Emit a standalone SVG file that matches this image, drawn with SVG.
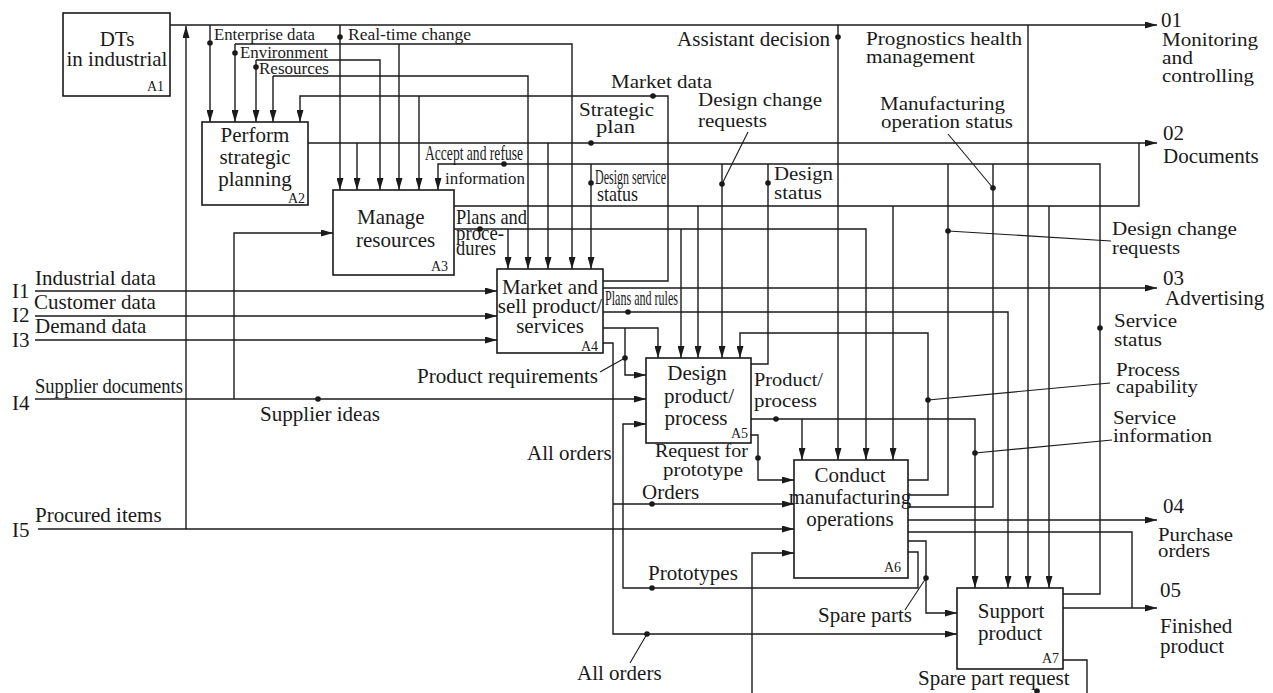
<svg xmlns="http://www.w3.org/2000/svg" width="1273" height="693" viewBox="0 0 1273 693">
<style>
text{font-family:"Liberation Serif","Times New Roman",serif;fill:#1a1a1a;font-size:21px}
.c{text-anchor:middle}
.s{font-size:14px}
.m{font-size:16px}
.t{font-size:19px}
.box{fill:#fff;stroke:#1a1a1a;stroke-width:1.6}
.ln{fill:none;stroke:#1a1a1a;stroke-width:1.4}
.ar{fill:none;stroke:#1a1a1a;stroke-width:1.4;marker-end:url(#ah)}
.ld{fill:none;stroke:#1a1a1a;stroke-width:1.1}
.dot{fill:#1a1a1a}
</style>
<defs>
<marker id="ah" viewBox="0 0 12 7" refX="12" refY="3.5" markerWidth="12" markerHeight="7" markerUnits="userSpaceOnUse" orient="auto"><path d="M0,0 L12,3.5 L0,7 z" fill="#1a1a1a"/></marker>
</defs>
<rect width="1273" height="693" fill="#fff"/>
<g id="connectors">
<path class="ar" d="M170,25 H1157"/>
<path class="ar" d="M186,529 V26"/>
<path class="ar" d="M210,25 V122"/>
<path class="ar" d="M235,44 V122"/>
<path class="ar" d="M235,44 H572 V269"/>
<path class="ar" d="M399,44 V190"/>
<path class="ar" d="M256,60 V122"/>
<path class="ar" d="M256,60 H380 V190"/>
<path class="ar" d="M273,76 V122"/>
<path class="ar" d="M273,76 H528 V269"/>
<path class="ar" d="M603,281 H668 V96 H300 V122"/>
<path class="ar" d="M419,96 V190"/>
<path class="ar" d="M340,25 V190"/>
<path class="ar" d="M308,143 H1157"/>
<path class="ar" d="M357,143 V190"/>
<path class="ar" d="M548,143 V269"/>
<path class="ar" d="M1063,594 H1100 V164 H438 V190"/>
<path class="ar" d="M591,164 V269"/>
<path class="ar" d="M722,164 V358"/>
<path class="ln" d="M751,364 H768 V164"/>
<path class="ln" d="M908,495 H948 V164"/>
<path class="ln" d="M908,507 H993 V164"/>
<path class="ln" d="M454,206 H1139 V143"/>
<path class="ar" d="M698,206 V358"/>
<path class="ar" d="M893,206 V460"/>
<path class="ar" d="M1049,206 V588"/>
<path class="ar" d="M454,229 H866 V460"/>
<path class="ar" d="M508,229 V269"/>
<path class="ar" d="M681,229 V358"/>
<path class="ar" d="M838,25 V460"/>
<path class="ar" d="M1028,25 V588"/>
<path class="ar" d="M35,291 H497"/>
<path class="ar" d="M35,316 H497"/>
<path class="ar" d="M35,340 H497"/>
<path class="ar" d="M35,399 H646"/>
<path class="ar" d="M234,399 V233 H333"/>
<path class="ar" d="M38,529 H794"/>
<path class="ar" d="M603,288 H1157"/>
<path class="ar" d="M603,312 H1008 V588"/>
<path class="ar" d="M603,328 H658 V358"/>
<path class="ar" d="M625,328 V375 H646"/>
<path class="ar" d="M603,343 H613 V634 H957"/>
<path class="ar" d="M613,504 H794"/>
<path class="ar" d="M751,419 H975 V588"/>
<path class="ar" d="M802,419 V460"/>
<path class="ar" d="M751,435 H758 V480 H794"/>
<path class="ar" d="M908,480 H928 V333 H740 V358"/>
<path class="ar" d="M908,520 H1157"/>
<path class="ln" d="M908,532 H1132 V608"/>
<path class="ar" d="M1063,608 H1157"/>
<path class="ar" d="M908,541 H926 V613 H957"/>
<path class="ar" d="M908,552 H918 V588 H623 V424 H646"/>
<path class="ln" d="M1063,660 H1087 V693"/>
<path class="ar" d="M752,693 V553 H794"/>
<path class="ld" d="M748,132 L722,184"/>
<path class="ld" d="M948,134 L993,188"/>
<path class="ld" d="M948,231 L1111,241"/>
<path class="ld" d="M928,400 L1110,383"/>
<path class="ld" d="M975,453 L1112,440"/>
<path class="ld" d="M625,358 L600,372"/>
<path class="ld" d="M926,578 L905,610"/>
<path class="ld" d="M647,634 L630,663"/>
<circle class="dot" cx="210" cy="43" r="2.8"/>
<circle class="dot" cx="235" cy="53" r="2.8"/>
<circle class="dot" cx="256" cy="67" r="2.8"/>
<circle class="dot" cx="340" cy="37" r="2.8"/>
<circle class="dot" cx="653" cy="96" r="2.8"/>
<circle class="dot" cx="591" cy="143" r="2.8"/>
<circle class="dot" cx="504" cy="164" r="2.8"/>
<circle class="dot" cx="591" cy="183" r="2.8"/>
<circle class="dot" cx="722" cy="184" r="2.8"/>
<circle class="dot" cx="768" cy="183" r="2.8"/>
<circle class="dot" cx="838" cy="37" r="2.8"/>
<circle class="dot" cx="993" cy="188" r="2.8"/>
<circle class="dot" cx="948" cy="231" r="2.8"/>
<circle class="dot" cx="480" cy="229" r="2.8"/>
<circle class="dot" cx="628" cy="312" r="2.8"/>
<circle class="dot" cx="625" cy="358" r="2.8"/>
<circle class="dot" cx="318" cy="399" r="2.8"/>
<circle class="dot" cx="776" cy="419" r="2.8"/>
<circle class="dot" cx="928" cy="400" r="2.8"/>
<circle class="dot" cx="1100" cy="328" r="2.8"/>
<circle class="dot" cx="975" cy="453" r="2.8"/>
<circle class="dot" cx="758" cy="458" r="2.8"/>
<circle class="dot" cx="652" cy="504" r="2.8"/>
<circle class="dot" cx="652" cy="588" r="2.8"/>
<circle class="dot" cx="926" cy="578" r="2.8"/>
<circle class="dot" cx="647" cy="634" r="2.8"/>
<circle class="dot" cx="1037" cy="691" r="2.8"/>
</g>
<g id="A1">
<rect class="box" x="63" y="13" width="107" height="83"/>
<text class="c" x="117" y="46">DTs</text>
<text class="c" x="117" y="66" font-size="20">in industrial</text>
<text class="s" x="147" y="91">A1</text>
</g>
<g id="A2">
<rect class="box" x="202" y="122" width="106" height="83"/>
<text class="c" x="255" y="142">Perform</text>
<text class="c" x="255" y="164">strategic</text>
<text class="c" x="255" y="186">planning</text>
<text class="s" x="288" y="203">A2</text>
</g>
<g id="A3">
<rect class="box" x="333" y="190" width="121" height="85"/>
<text x="357" y="224">Manage</text>
<text x="356" y="247">resources</text>
<text class="s" x="431" y="271">A3</text>
</g>
<g id="A4">
<rect class="box" x="497" y="269" width="106" height="84"/>
<text class="c" x="550" y="294" font-size="20">Market and</text>
<text class="c" x="550" y="313" font-size="20">sell product/</text>
<text class="c" x="550" y="333" font-size="20">services</text>
<text class="s" x="581" y="351">A4</text>
</g>
<g id="A5">
<rect class="box" x="646" y="358" width="105" height="85"/>
<text class="c" x="697" y="380">Design</text>
<text class="c" x="699" y="403">product/</text>
<text class="c" x="696" y="425">process</text>
<text class="s" x="731" y="438">A5</text>
</g>
<g id="A6">
<rect class="box" x="794" y="460" width="114" height="118"/>
<text class="c" x="850" y="482" font-size="18.5">Conduct</text>
<text class="c" x="850" y="504" font-size="18.5">manufacturing</text>
<text class="c" x="850" y="526" font-size="18.5">operations</text>
<text class="s" x="884" y="572">A6</text>
</g>
<g id="A7">
<rect class="box" x="957" y="588" width="106" height="81"/>
<text class="c" x="1011" y="618">Support</text>
<text class="c" x="1010" y="640">product</text>
<text class="s" x="1042" y="663">A7</text>
</g>
<g id="labels">
<text class="m" x="214" y="40" textLength="101" lengthAdjust="spacingAndGlyphs">Enterprise data</text>
<text class="m" x="240" y="58" textLength="88" lengthAdjust="spacingAndGlyphs">Environment</text>
<text class="m" x="259" y="74" textLength="70" lengthAdjust="spacingAndGlyphs">Resources</text>
<text class="m" x="348" y="40" textLength="123" lengthAdjust="spacingAndGlyphs">Real-time change</text>
<text class="t" x="611" y="88" textLength="101" lengthAdjust="spacingAndGlyphs">Market data</text>
<text class="t" x="579" y="116" textLength="75" lengthAdjust="spacingAndGlyphs">Strategic</text>
<text class="t" x="596" y="133" textLength="39" lengthAdjust="spacingAndGlyphs">plan</text>
<text class="t" x="698" y="106" textLength="124" lengthAdjust="spacingAndGlyphs">Design change</text>
<text class="t" x="698" y="127" textLength="69" lengthAdjust="spacingAndGlyphs">requests</text>
<text x="677" y="46" textLength="153" lengthAdjust="spacingAndGlyphs">Assistant decision</text>
<text class="t" x="866" y="45" textLength="156" lengthAdjust="spacingAndGlyphs">Prognostics health</text>
<text class="t" x="866" y="63" textLength="109" lengthAdjust="spacingAndGlyphs">management</text>
<text class="t" x="880" y="110" textLength="125" lengthAdjust="spacingAndGlyphs">Manufacturing</text>
<text class="t" x="881" y="128" textLength="132" lengthAdjust="spacingAndGlyphs">operation status</text>
<text x="1161" y="27">01</text>
<text class="t" x="1162" y="46" textLength="96" lengthAdjust="spacingAndGlyphs">Monitoring</text>
<text class="t" x="1162" y="64" textLength="31" lengthAdjust="spacingAndGlyphs">and</text>
<text class="t" x="1162" y="82" textLength="92" lengthAdjust="spacingAndGlyphs">controlling</text>
<text x="1163" y="140">02</text>
<text x="1163" y="163">Documents</text>
<text x="425" y="160" font-size="15" textLength="98" lengthAdjust="spacingAndGlyphs">Accept and refuse</text>
<text class="m" x="445" y="184" textLength="80" lengthAdjust="spacingAndGlyphs">information</text>
<text x="595" y="184" font-size="14" textLength="71" lengthAdjust="spacingAndGlyphs">Design service</text>
<text x="597" y="201" font-size="17" textLength="41" lengthAdjust="spacingAndGlyphs">status</text>
<text class="t" x="774" y="180" textLength="59" lengthAdjust="spacingAndGlyphs">Design</text>
<text class="t" x="774" y="199" textLength="48" lengthAdjust="spacingAndGlyphs">status</text>
<text x="456" y="224" font-size="17" textLength="71" lengthAdjust="spacingAndGlyphs">Plans and</text>
<text x="456" y="240" font-size="15" textLength="48" lengthAdjust="spacingAndGlyphs">proce-</text>
<text x="456" y="255" font-size="15" textLength="40" lengthAdjust="spacingAndGlyphs">dures</text>
<text class="t" x="1112" y="235" textLength="125" lengthAdjust="spacingAndGlyphs">Design change</text>
<text class="t" x="1112" y="254" textLength="68" lengthAdjust="spacingAndGlyphs">requests</text>
<text x="1163" y="285">03</text>
<text x="1165" y="305">Advertising</text>
<text class="t" x="1114" y="327" textLength="63" lengthAdjust="spacingAndGlyphs">Service</text>
<text class="t" x="1114" y="346" textLength="48" lengthAdjust="spacingAndGlyphs">status</text>
<text class="t" x="1116" y="376" textLength="64" lengthAdjust="spacingAndGlyphs">Process</text>
<text class="t" x="1116" y="393" textLength="82" lengthAdjust="spacingAndGlyphs">capability</text>
<text class="t" x="1113" y="424" textLength="63" lengthAdjust="spacingAndGlyphs">Service</text>
<text class="t" x="1113" y="442" textLength="99" lengthAdjust="spacingAndGlyphs">information</text>
<text x="1163" y="513">04</text>
<text class="t" x="1158" y="541" textLength="75" lengthAdjust="spacingAndGlyphs">Purchase</text>
<text class="t" x="1158" y="557" textLength="52" lengthAdjust="spacingAndGlyphs">orders</text>
<text x="1160" y="597">05</text>
<text x="1160" y="633">Finished</text>
<text x="1160" y="653">product</text>
<text x="35" y="285">Industrial data</text>
<text x="34" y="309">Customer data</text>
<text x="35" y="333">Demand data</text>
<text x="35" y="393" font-size="18" textLength="148" lengthAdjust="spacingAndGlyphs">Supplier documents</text>
<text x="35" y="522">Procured items</text>
<text x="12" y="298">I1</text>
<text x="12" y="322">I2</text>
<text x="12" y="347">I3</text>
<text x="12" y="410">I4</text>
<text x="12" y="537">I5</text>
<text x="605" y="305" font-size="14" textLength="73" lengthAdjust="spacingAndGlyphs">Plans and rules</text>
<text x="417" y="383" textLength="181" lengthAdjust="spacingAndGlyphs">Product requirements</text>
<text x="260" y="421" textLength="120" lengthAdjust="spacingAndGlyphs">Supplier ideas</text>
<text x="527" y="460">All orders</text>
<text class="t" x="754" y="386" textLength="69" lengthAdjust="spacingAndGlyphs">Product/</text>
<text class="t" x="754" y="407" textLength="63" lengthAdjust="spacingAndGlyphs">process</text>
<text class="t" x="655" y="457" textLength="93" lengthAdjust="spacingAndGlyphs">Request for</text>
<text class="t" x="663" y="476" textLength="80" lengthAdjust="spacingAndGlyphs">prototype</text>
<text x="642" y="499">Orders</text>
<text x="648" y="580">Prototypes</text>
<text x="818" y="622">Spare parts</text>
<text x="577" y="680">All orders</text>
<text x="918" y="685">Spare part request</text>
</g>
</svg>
